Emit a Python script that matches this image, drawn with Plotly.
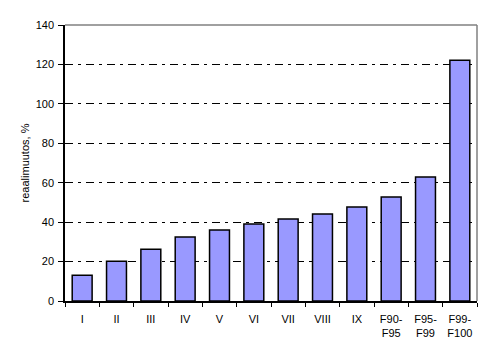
import plotly.graph_objects as go

categories = ["I", "II", "III", "IV", "V", "VI", "VII", "VIII", "IX",
              "F90-<br>F95", "F95-<br>F99", "F99-<br>F100"]
values = [13.0, 20.1, 26.2, 32.5, 36.0, 39.0, 41.6, 44.1, 47.7, 52.8, 62.9, 122.1]
y_ticks = [0, 20, 40, 60, 80, 100, 120, 140]

fig = go.Figure(go.Bar(
    x=categories, y=values,
    marker=dict(color="#9999FF", line=dict(color="black", width=1.5)),
))

font = dict(family="Liberation Sans, Arial, sans-serif", size=11, color="black")

fig.update_layout(
    width=492, height=358,
    margin=dict(l=65, r=15, t=25, b=57),
    paper_bgcolor="white", plot_bgcolor="white",
    bargap=0.42,
    showlegend=False,
    font=font,
    xaxis=dict(
        type="category",
        showline=True, linecolor="black", linewidth=1.5,
        ticks="outside", tickson="boundaries", ticklen=4, tickcolor="black",
        showgrid=False, tickfont=font, ticklabelstandoff=7,
    ),
    yaxis=dict(
        range=[0, 140], tickvals=y_ticks,
        showline=True, linecolor="black", linewidth=1.5,
        ticks="outside", ticklen=5, tickcolor="black",
        showgrid=True, gridcolor="black", gridwidth=1,
        griddash="8px,5px,3px,5px",
        zeroline=False, tickfont=font, ticklabelstandoff=2,
        title=dict(text="reaalimuutos, %", font=font, standoff=4),
    ),
    shapes=[
        dict(type="line", xref="paper", yref="paper", x0=0, x1=1, y0=1, y1=1,
             line=dict(color="#808080", width=1.5)),
        dict(type="line", xref="paper", yref="paper", x0=1, x1=1, y0=0, y1=1,
             line=dict(color="#808080", width=1.5)),
    ],
)

fig.write_html("out.html")
